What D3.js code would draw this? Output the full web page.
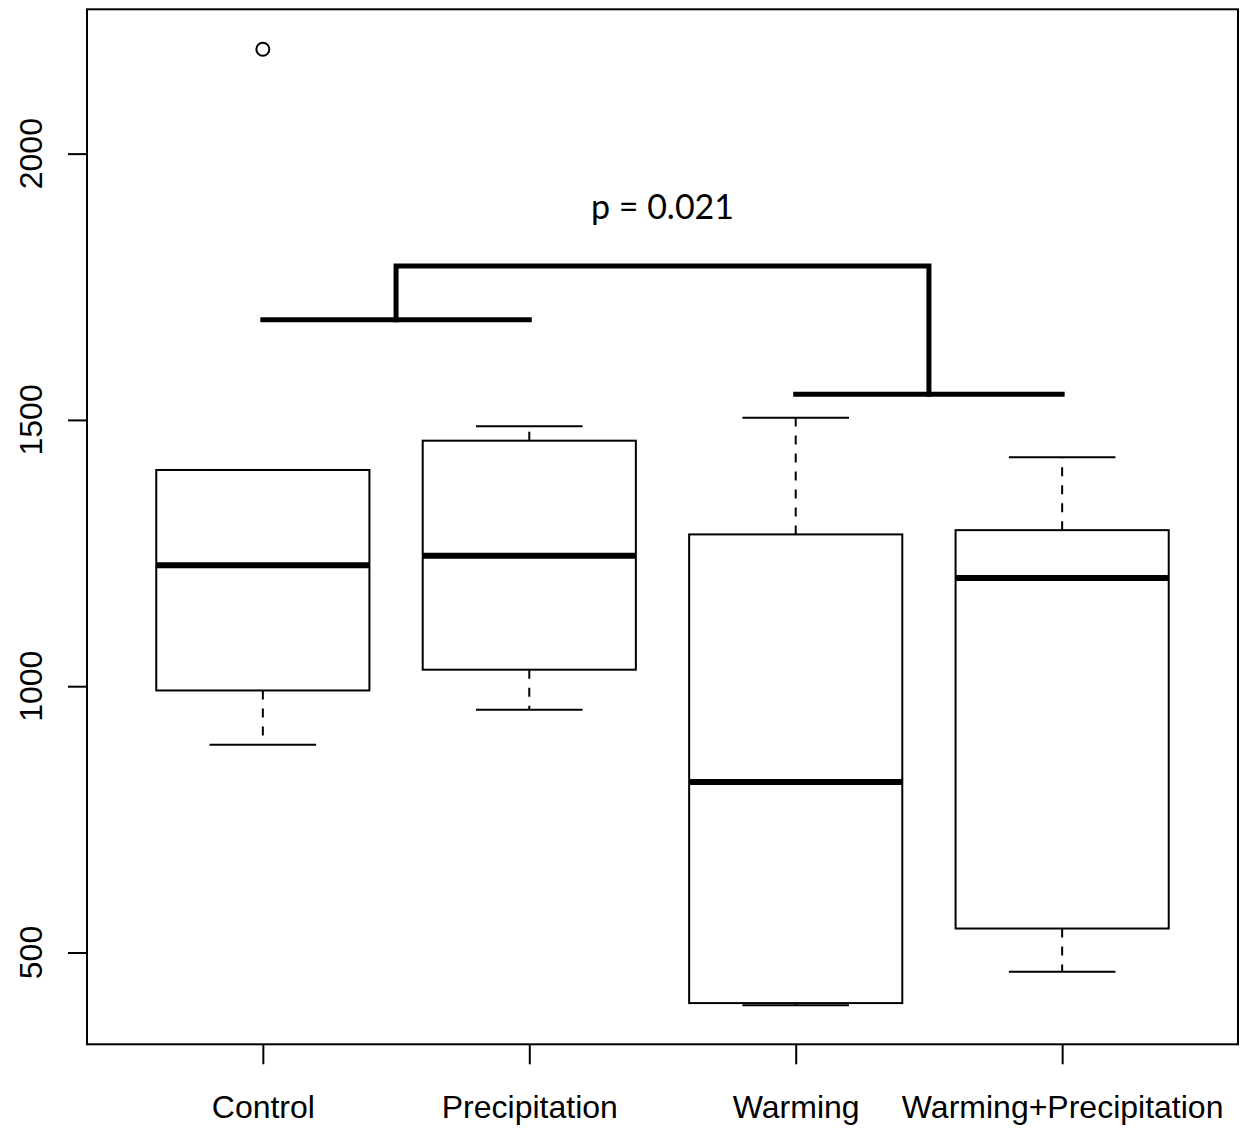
<!DOCTYPE html>
<html>
<head>
<meta charset="utf-8">
<script src="https://cdn.jsdelivr.net/npm/d3@7"></script>
<style>
body { margin: 0; background: #fff; }
</style>
</head>
<body>
<div id="container"></div>
<script>
var groups = ["Control", "Precipitation", "Warming", "Warming+Precipitation"];
var whiskerLow  = [890, 956, 401, 464];
var q1          = [992, 1031, 405, 545];
var medians     = [1227, 1245, 820, 1203];
var q3          = [1406, 1461, 1285, 1293];
var whiskerHigh = [1406, 1488, 1504, 1430];
var outlierGroup = [0];
var outlierValue = [2196];
var yTicks = [500, 1000, 1500, 2000];
// bracket heights (left pair, right pair, join) and p value label
var pairLeft = 1688, pairRight = 1548, joinHeight = 1789;
var pLabel = "p = 0.021";
var pLabelValue = 1877;

var width = 1240, height = 1135;
var frame = {left: 87, right: 1238, top: 9.3, bottom: 1044.3};

var svg = d3.select("#container").append("svg")
    .attr("width", width)
    .attr("height", height)
    .style("font-family", "'Liberation Sans', Arial, sans-serif");

var x = d3.scaleLinear().domain([0.34, 4.66]).range([frame.left, frame.right]);
var y = d3.scaleLinear().domain([327.6, 2271]).range([frame.bottom, frame.top]);

var boxHalf = 0.4, capHalf = 0.2;

var data = groups.map(function(g, i) {
  return {name: g, pos: i + 1, lo: whiskerLow[i], q1: q1[i], med: medians[i], q3: q3[i], hi: whiskerHigh[i]};
});

var box = svg.append("g").selectAll("g")
    .data(data)
  .enter().append("g");

// dashed whiskers
box.append("line")
    .attr("x1", function(d) { return x(d.pos); })
    .attr("x2", function(d) { return x(d.pos); })
    .attr("y1", function(d) { return y(d.q1); })
    .attr("y2", function(d) { return y(d.lo); })
    .attr("stroke", "#000").attr("stroke-width", 2)
    .attr("stroke-dasharray", "9,9");
box.append("line")
    .attr("x1", function(d) { return x(d.pos); })
    .attr("x2", function(d) { return x(d.pos); })
    .attr("y1", function(d) { return y(d.q3); })
    .attr("y2", function(d) { return y(d.hi); })
    .attr("stroke", "#000").attr("stroke-width", 2)
    .attr("stroke-dasharray", "9,9");

// caps
["lo", "hi"].forEach(function(k) {
  box.append("line")
      .attr("x1", function(d) { return x(d.pos - capHalf); })
      .attr("x2", function(d) { return x(d.pos + capHalf); })
      .attr("y1", function(d) { return y(d[k]); })
      .attr("y2", function(d) { return y(d[k]); })
      .attr("stroke", "#000").attr("stroke-width", 2);
});

box.append("rect")
    .attr("x", function(d) { return x(d.pos - boxHalf); })
    .attr("width", function(d) { return x(d.pos + boxHalf) - x(d.pos - boxHalf); })
    .attr("y", function(d) { return y(d.q3); })
    .attr("height", function(d) { return y(d.q1) - y(d.q3); })
    .attr("fill", "none")
    .attr("stroke", "#000").attr("stroke-width", 2);

box.append("line")
    .attr("x1", function(d) { return x(d.pos - boxHalf); })
    .attr("x2", function(d) { return x(d.pos + boxHalf); })
    .attr("y1", function(d) { return y(d.med); })
    .attr("y2", function(d) { return y(d.med); })
    .attr("stroke", "#000").attr("stroke-width", 6);

svg.append("g").selectAll("circle")
    .data(outlierValue)
  .enter().append("circle")
    .attr("cx", function(d, i) { return x(outlierGroup[i] + 1); })
    .attr("cy", function(d) { return y(d); })
    .attr("r", 6.5)
    .attr("fill", "none")
    .attr("stroke", "#000").attr("stroke-width", 2);

// significance bracket
var midL = (1 + 2) / 2, midR = (3 + 4) / 2;
var bracket = [
  [[1, pairLeft], [2, pairLeft]],
  [[3, pairRight], [4, pairRight]],
  [[midL, pairLeft], [midL, joinHeight], [midR, joinHeight], [midR, pairRight]]
];
var line = d3.line()
    .x(function(d) { return x(d[0]); })
    .y(function(d) { return y(d[1]); });
svg.append("g").selectAll("path")
    .data(bracket)
  .enter().append("path")
    .attr("d", line)
    .attr("fill", "none")
    .attr("stroke", "#000")
    .attr("stroke-width", 5)
    .attr("stroke-linecap", "square");

svg.append("text")
    .attr("x", x((midL + midR) / 2))
    .attr("y", y(pLabelValue))
    .attr("text-anchor", "middle")
    .style("font-family", "Lato, 'Open Sans', sans-serif")
    .style("font-size", "34px")
    .text(pLabel);

// frame
svg.append("rect")
    .attr("x", frame.left)
    .attr("y", frame.top)
    .attr("width", frame.right - frame.left)
    .attr("height", frame.bottom - frame.top)
    .attr("fill", "none")
    .attr("stroke", "#000").attr("stroke-width", 2);

// axes
var yAxis = svg.append("g")
    .attr("transform", "translate(" + frame.left + ",0)")
    .call(d3.axisLeft(y).tickValues(yTicks).tickSize(19).tickFormat(""));
yAxis.select(".domain").remove();
yAxis.selectAll("line").attr("stroke-width", 2);

svg.append("g").selectAll("text")
    .data(yTicks)
  .enter().append("text")
    .attr("transform", function(d) { return "translate(42," + y(d) + ") rotate(-90)"; })
    .attr("text-anchor", "middle")
    .style("font-size", "32px")
    .text(function(d) { return d; });

var xAxis = svg.append("g")
    .attr("transform", "translate(0," + frame.bottom + ")")
    .call(d3.axisBottom(x).tickValues([1, 2, 3, 4]).tickSize(20)
      .tickFormat(function(d, i) { return groups[i]; }));
xAxis.select(".domain").remove();
xAxis.selectAll("line").attr("stroke-width", 2);
xAxis.selectAll("text")
    .attr("y", 74)
    .attr("dy", 0)
    .attr("fill", "#000")
    .style("font-family", "'Liberation Sans', Arial, sans-serif")
    .style("font-size", "32px");
</script>
</body>
</html>
